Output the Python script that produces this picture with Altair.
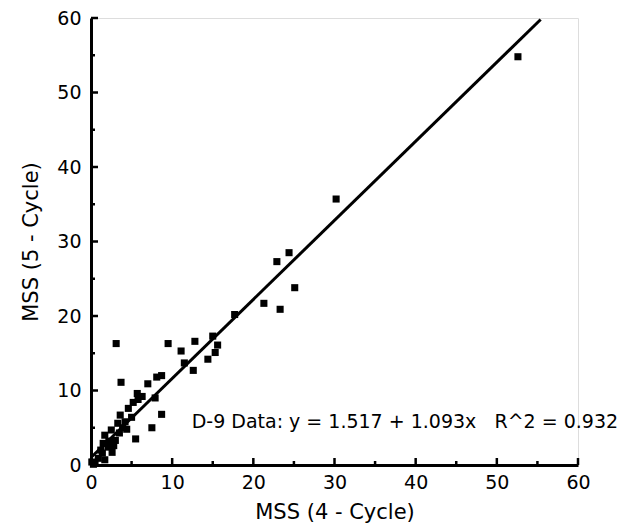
import altair as alt
import pandas as pd

# Scatter points (MSS 4-cycle vs MSS 5-cycle)
x_vals = [52.6, 30.2, 24.4, 22.9, 25.1, 21.3, 23.3, 17.7,
          3.1, 9.5, 12.8, 15.0, 11.1, 15.6, 15.3, 11.5, 14.4, 12.6,
          8.7, 8.1, 3.7, 7.0, 7.9, 8.7, 7.5, 5.5, 5.7, 5.2, 4.6, 3.6,
          4.2, 5.0, 3.9, 3.3, 2.5, 1.7, 1.5, 3.0, 2.1, 2.6, 1.4, 0.9,
          0.5, 0.1, 1.7, 0.3, 5.8, 6.3, 3.5, 4.4, 2.2, 1.2, 2.8]
y_vals = [54.8, 35.7, 28.5, 27.3, 23.8, 21.7, 20.9, 20.2,
          16.3, 16.3, 16.6, 17.3, 15.3, 16.1, 15.1, 13.7, 14.2, 12.7,
          12.0, 11.8, 11.1, 10.9, 9.0, 6.8, 5.0, 3.5, 9.6, 8.4, 7.6, 6.7,
          5.8, 6.4, 5.0, 5.6, 4.7, 4.0, 2.9, 3.3, 2.4, 1.7, 1.6, 0.9,
          0.3, 0.4, 0.7, 0.1, 8.8, 9.2, 4.3, 4.8, 3.2, 2.0, 2.6]

# Fit line as drawn
line_x = [0.0, 55.4]
line_y = [1.0, 59.8]

major_ticks = [0, 10, 20, 30, 40, 50, 60]
minor_ticks = [5, 15, 25, 35, 45, 55]

annotation = "D-9 Data: y = 1.517 + 1.093x\u00a0\u00a0\u00a0R^2 = 0.932"
ann_x = [12.4]
ann_y = [5.8]

FONT = "DejaVu Sans"

pts = pd.DataFrame({"x": x_vals, "y": y_vals})
ln = pd.DataFrame({"x": line_x, "y": line_y})
maj = pd.DataFrame({"v": major_ticks})
mnr = pd.DataFrame({"v": minor_ticks})
ann = pd.DataFrame({"x": ann_x, "y": ann_y, "t": [annotation]})

xs = alt.Scale(domain=[0, 60], nice=False)
ys = alt.Scale(domain=[0, 60], nice=False)

x_axis = alt.Axis(values=major_ticks, title="MSS (4 - Cycle)", grid=False,
                  tickSize=0, labelPadding=8, domainWidth=3, domainColor="black",
                  labelFont=FONT, labelFontSize=19, labelColor="black",
                  titleFont=FONT, titleFontSize=21, titleFontWeight="normal",
                  titleColor="black", titlePadding=9, labelFlush=False)
y_axis = alt.Axis(values=major_ticks, title="MSS (5 - Cycle)", grid=False,
                  tickSize=0, labelPadding=10, domainWidth=3, domainColor="black",
                  labelFont=FONT, labelFontSize=19, labelColor="black",
                  titleFont=FONT, titleFontSize=21, titleFontWeight="normal",
                  titleColor="black", titlePadding=15, labelFlush=False)

points = alt.Chart(pts).mark_point(shape="square", filled=True, size=50,
                                   color="black", opacity=1).encode(
    x=alt.X("x:Q", scale=xs, axis=x_axis),
    y=alt.Y("y:Q", scale=ys, axis=y_axis),
)

line = alt.Chart(ln).mark_line(color="black", strokeWidth=3).encode(
    x=alt.X("x:Q", scale=xs), y=alt.Y("y:Q", scale=ys))

# inward ticks
xt_major = alt.Chart(maj).mark_rule(color="black", strokeWidth=2.5).encode(
    x=alt.X("v:Q", scale=xs), y=alt.value(447), y2=alt.value(440))
xt_minor = alt.Chart(mnr).mark_rule(color="black", strokeWidth=2.5).encode(
    x=alt.X("v:Q", scale=xs), y=alt.value(447), y2=alt.value(443))
yt_major = alt.Chart(maj).mark_rule(color="black", strokeWidth=2.5).encode(
    y=alt.Y("v:Q", scale=ys), x=alt.value(0), x2=alt.value(7))
yt_minor = alt.Chart(mnr).mark_rule(color="black", strokeWidth=2.5).encode(
    y=alt.Y("v:Q", scale=ys), x=alt.value(0), x2=alt.value(4))

text = alt.Chart(ann).mark_text(align="left", baseline="middle", font=FONT,
                                fontSize=19, color="black").encode(
    x=alt.X("x:Q", scale=xs), y=alt.Y("y:Q", scale=ys), text="t:N")

chart = alt.layer(line, points, xt_major, xt_minor, yt_major, yt_minor, text).properties(
    width=487, height=447,
    autosize=alt.AutoSizeParams(type="none"),
    padding={"left": 83, "top": 10, "right": 45, "bottom": 58},
).configure_view(stroke=None).configure(background="white")

chart.save("out.html", embed_options={"renderer": "svg", "actions": False})
